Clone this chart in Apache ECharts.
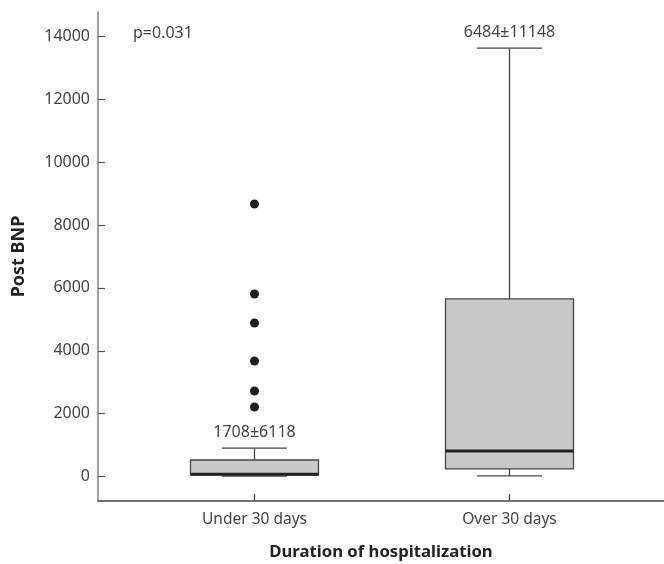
<!DOCTYPE html>
<html><head><meta charset="utf-8">
<script src="https://cdn.jsdelivr.net/npm/echarts@6/dist/echarts.min.js"></script>
<style>html,body{margin:0;padding:0;background:#fff}#c{width:664px;height:564px}</style>
</head><body><div id="c"></div>
<script>
// ---- data ----
const categories = ['Under 30 days', 'Over 30 days'];
const boxMin = [10, 20];
const boxQ1 = [55, 240];
const boxMedian = [70, 810];
const boxQ3 = [525, 5650];
const boxMax = [905, 13630];
const means = [1708, 6484];
const sds = [6118, 11148];
const outlierCategory = ['Under 30 days', 'Under 30 days', 'Under 30 days', 'Under 30 days', 'Under 30 days', 'Under 30 days'];
const outlierValues = [8670, 5805, 4885, 3675, 2720, 2210];
const yTickValues = [0, 2000, 4000, 6000, 8000, 10000, 12000, 14000];
const yMin = -780, yMax = 14780;
const pValueText = 'p=0.031';
const xTitle = 'Duration of hospitalization';
const yTitle = 'Post BNP';

const FONT = "'Noto Sans', 'DejaVu Sans', sans-serif";
const chart = echarts.init(document.getElementById('c'), null, {renderer: 'canvas'});

const boxData = categories.map((c, i) => [i, boxMin[i], boxQ1[i], boxMedian[i], boxQ3[i], boxMax[i], means[i], sds[i]]);
const outlierData = outlierValues.map((v, i) => [outlierCategory[i], v]);

const stroke = '#444';
function renderBox(params, api) {
  const x = api.value(0);
  const cMin = api.coord([x, api.value(1)]);
  const cQ1 = api.coord([x, api.value(2)]);
  const cMed = api.coord([x, api.value(3)]);
  const cQ3 = api.coord([x, api.value(4)]);
  const cMax = api.coord([x, api.value(5)]);
  const cx = cMin[0];
  const hw = 64, cw = 32.5;
  const ls = {stroke: stroke, lineWidth: 1.3};
  return {
    type: 'group',
    children: [
      {type: 'line', shape: {x1: cx, y1: cQ3[1], x2: cx, y2: cMax[1]}, style: ls},
      {type: 'line', shape: {x1: cx - cw, y1: cMax[1], x2: cx + cw, y2: cMax[1]}, style: ls},
      {type: 'line', shape: {x1: cx, y1: cMin[1], x2: cx, y2: cQ1[1]}, style: ls},
      {type: 'line', shape: {x1: cx - cw, y1: cMin[1], x2: cx + cw, y2: cMin[1]}, style: ls},
      {type: 'rect', shape: {x: cx - hw, y: cQ3[1], width: 2 * hw, height: cQ1[1] - cQ3[1]},
        style: {fill: '#c8c9cb', stroke: stroke, lineWidth: 1.3}},
      {type: 'line', shape: {x1: cx - hw, y1: cMed[1], x2: cx + hw, y2: cMed[1]}, style: {stroke: '#222', lineWidth: 3}},
      {type: 'text', x: cx, y: cMax[1] - 16,
        style: {text: api.value(6) + '\u00b1' + api.value(7), align: 'center', verticalAlign: 'middle',
          fontSize: 16, fontFamily: FONT, fill: '#444'}}
    ]
  };
}

const option = {
  backgroundColor: '#fff',
  animation: false,
  grid: [
    {left: 98, right: 0, top: 12, bottom: 63, containLabel: false, outerBoundsMode: 'none'},
    {left: 127, width: 510, top: 12, bottom: 63, containLabel: false, outerBoundsMode: 'none'}
  ],
  xAxis: [
    {type: 'value', gridIndex: 0, min: 0, max: 1,
      axisLine: {show: true, onZero: false, lineStyle: {color: '#444', width: 1.5}},
      axisTick: {show: false}, axisLabel: {show: false}, splitLine: {show: false},
      name: xTitle, nameLocation: 'middle', nameGap: 43,
      nameTextStyle: {fontSize: 16.7, fontWeight: 'bold', fontFamily: FONT, color: '#222'}},
    {type: 'category', gridIndex: 1, data: categories, boundaryGap: true,
      axisLine: {show: false, onZero: false},
      axisTick: {show: true, inside: true, length: 7, alignWithLabel: true, lineStyle: {color: '#444', width: 1.3}},
      axisLabel: {margin: 11, fontSize: 15.5, fontFamily: FONT, color: '#444'}}
  ],
  yAxis: [
    {type: 'value', gridIndex: 0, min: yMin, max: yMax,
      axisLine: {show: true, onZero: false, lineStyle: {color: '#8a8a8a', width: 1.6}},
      axisTick: {show: true, inside: true, length: 7, customValues: yTickValues, lineStyle: {color: '#555', width: 1.2}},
      axisLabel: {customValues: yTickValues, formatter: (v) => String(v), margin: 8, fontSize: 16, fontFamily: FONT, color: '#444'},
      splitLine: {show: false},
      name: yTitle, nameLocation: 'middle', nameGap: 70, nameRotate: 90,
      nameTextStyle: {fontSize: 18, fontWeight: 'bold', fontFamily: FONT, color: '#222'}},
    {type: 'value', gridIndex: 1, min: yMin, max: yMax, show: false, splitLine: {show: false}}
  ],
  graphic: [
    {type: 'text', x: 133, y: 33, style: {text: pValueText, verticalAlign: 'middle', fontSize: 16, fontFamily: FONT, fill: '#444'}}
  ],
  series: [
    {type: 'custom', xAxisIndex: 1, yAxisIndex: 1, data: boxData, renderItem: renderBox,
      encode: {x: 0, y: [1, 2, 3, 4, 5]}},
    {type: 'scatter', xAxisIndex: 1, yAxisIndex: 1, data: outlierData, symbolSize: 9,
      itemStyle: {color: '#1e1e1e', opacity: 1}}
  ]
};
chart.setOption(option);
</script>
</body></html>
